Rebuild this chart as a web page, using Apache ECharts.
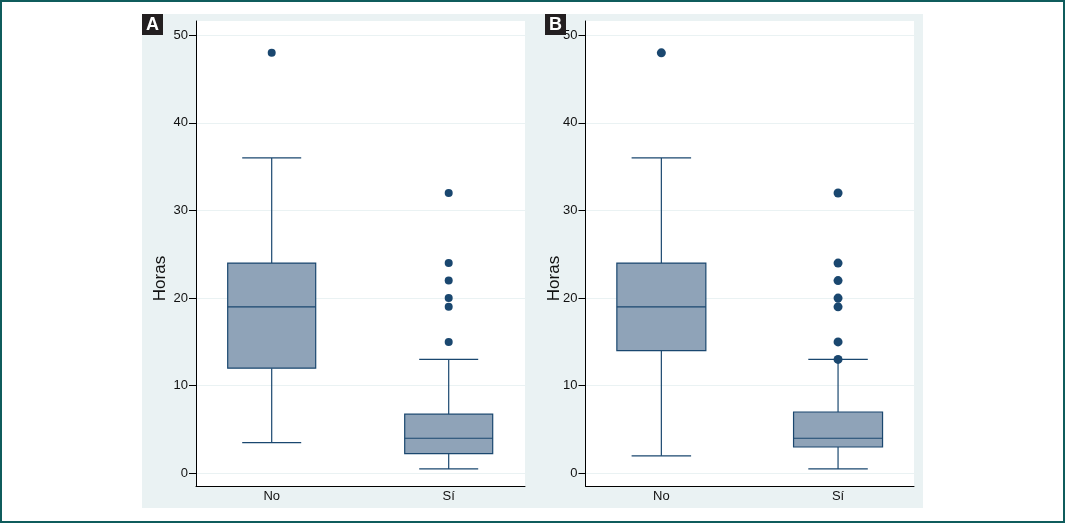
<!DOCTYPE html>
<html>
<head>
<meta charset="utf-8">
<script src="https://cdn.jsdelivr.net/npm/echarts@6/dist/echarts.min.js"></script>
<style>
html,body{margin:0;padding:0;background:#fff;}
#c{width:1065px;height:523px;}
</style>
</head>
<body>
<div id="c"></div>
<script>
// ---- data ----
const categories = ['No', 'Sí'];
const yMin = 0, yMax = 50, yInterval = 10;
// [min whisker, Q1, median, Q3, max whisker]
const boxA_No = [3.5, 12, 19, 24, 36];
const boxA_Si = [0.5, 2.25, 4, 6.75, 13];
const outA_No = [48];
const outA_Si = [32, 24, 22, 20, 19, 15];
const boxB_No = [2, 14, 19, 24, 36];
const boxB_Si = [0.5, 3, 4, 7, 13];
const outB_No = [48];
const outB_Si = [32, 24, 22, 20, 19, 15, 13];
const yTitle = 'Horas';
const panelLabels = ['A', 'B'];

// ---- styles ----
const NAVY = '#1a476f';
const FILL = '#8fa3b8';
const BG = '#eaf2f3';
const FONT = '"Liberation Sans", Arial, sans-serif';

function boxData(no, si) { return [[0].concat(no), [1].concat(si)]; }
function outData(no, si) {
  return no.map(v => [0, v]).concat(si.map(v => [1, v]));
}

function makeRender(bw, cw) {
  return function (params, api) {
    const i = api.value(0);
    const x = api.coord([i, 0])[0];
    const y = k => api.coord([i, api.value(k)])[1];
    const yl = y(1), yq1 = y(2), ym = y(3), yq3 = y(4), yh = y(5);
    const st = { stroke: NAVY, lineWidth: 1.2, fill: null };
    return {
      type: 'group',
      children: [
        { type: 'line', shape: { x1: x, y1: yh, x2: x, y2: yq3 }, style: st },
        { type: 'line', shape: { x1: x, y1: yq1, x2: x, y2: yl }, style: st },
        { type: 'line', shape: { x1: x - cw / 2, y1: yh, x2: x + cw / 2, y2: yh }, style: st },
        { type: 'line', shape: { x1: x - cw / 2, y1: yl, x2: x + cw / 2, y2: yl }, style: st },
        { type: 'rect', shape: { x: x - bw / 2, y: yq3, width: bw, height: yq1 - yq3 },
          style: { fill: FILL, stroke: NAVY, lineWidth: 1.2 } },
        { type: 'line', shape: { x1: x - bw / 2, y1: ym, x2: x + bw / 2, y2: ym }, style: st }
      ]
    };
  };
}

// panel geometry
const P = [
  { frameLeft: 196, frameW: 329, dataLeft: 183.2, dataW: 354, bw: 88, cw: 59, sym: 8, titleX: 160.5, labX: 142 },
  { frameLeft: 585.5, frameW: 328.5, dataLeft: 573, dataW: 353.4, bw: 89, cw: 59.5, sym: 9, titleX: 554, labX: 545 }
];
const frameTop = 21, frameH = 465;
const dataTop = 35.3, dataH = 438;

const grids = [], xAxes = [], yAxes = [], series = [];
P.forEach((p, k) => {
  const g0 = k * 3;
  grids.push({ left: p.frameLeft, top: frameTop, width: p.frameW, height: frameH,
    show: true, backgroundColor: '#ffffff', borderWidth: 0 });
  grids.push({ left: p.frameLeft, top: dataTop, width: p.frameW, height: dataH });
  grids.push({ left: p.dataLeft, top: dataTop, width: p.dataW, height: dataH });

  xAxes.push({ gridIndex: g0, type: 'value', min: 0, max: 1,
    axisLine: { show: true, onZero: false, lineStyle: { color: '#000', width: 1 } },
    axisTick: { show: false }, axisLabel: { show: false }, splitLine: { show: false } });
  xAxes.push({ gridIndex: g0 + 1, type: 'value', min: 0, max: 1, show: false });
  xAxes.push({ gridIndex: g0 + 2, type: 'category', data: categories, boundaryGap: true,
    axisLine: { show: false }, axisTick: { show: false }, splitLine: { show: false },
    axisLabel: { margin: 17, fontSize: 13, color: '#111', fontFamily: FONT } });

  yAxes.push({ gridIndex: g0, type: 'value', min: 0, max: 1,
    axisLine: { show: true, onZero: false, lineStyle: { color: '#000', width: 1 } },
    axisTick: { show: false }, axisLabel: { show: false }, splitLine: { show: false } });
  yAxes.push({ gridIndex: g0 + 1, type: 'value', min: yMin, max: yMax, interval: yInterval,
    axisLine: { show: false },
    axisTick: { show: true, length: 7, lineStyle: { color: '#000', width: 1 } },
    axisLabel: { margin: 8, fontSize: 13, color: '#111', fontFamily: FONT },
    splitLine: { show: true, lineStyle: { color: BG, width: 1 } } });
  yAxes.push({ gridIndex: g0 + 2, type: 'value', min: yMin, max: yMax, show: false });

  const bd = k === 0 ? boxData(boxA_No, boxA_Si) : boxData(boxB_No, boxB_Si);
  const od = k === 0 ? outData(outA_No, outA_Si) : outData(outB_No, outB_Si);
  series.push({ type: 'custom', xAxisIndex: g0 + 2, yAxisIndex: g0 + 2,
    renderItem: makeRender(p.bw, p.cw), data: bd, encode: { x: 0, y: [1, 2, 3, 4, 5] }, z: 3 });
  series.push({ type: 'scatter', xAxisIndex: g0 + 2, yAxisIndex: g0 + 2, data: od,
    symbol: 'circle', symbolSize: p.sym, itemStyle: { color: NAVY, opacity: 1 }, z: 4 });
});

const graphics = [
  { type: 'rect', z: -10, shape: { x: 1, y: 1, width: 1063, height: 521 },
    style: { fill: '#ffffff', stroke: '#0f5c5c', lineWidth: 2 } },
  { type: 'rect', z: -9, shape: { x: 142, y: 14, width: 781, height: 494 }, style: { fill: BG } }
];
P.forEach((p, k) => {
  graphics.push({ type: 'rect', z: 10, shape: { x: p.labX, y: 14, width: 21, height: 21 }, style: { fill: '#231f20' } });
  graphics.push({ type: 'text', z: 11, x: p.labX + 10.5, y: 25,
    style: { text: panelLabels[k], fill: '#fff', font: 'bold 18px ' + FONT, textAlign: 'center', textVerticalAlign: 'middle' } });
  graphics.push({ type: 'text', z: 11, x: p.titleX, y: 278.5, rotation: Math.PI / 2,
    style: { text: yTitle, fill: '#111', font: '17px ' + FONT, textAlign: 'center', textVerticalAlign: 'middle' } });
});

const chart = echarts.init(document.getElementById('c'), null, { renderer: 'canvas' });
chart.setOption({
  animation: false,
  backgroundColor: '#ffffff',
  textStyle: { fontFamily: FONT },
  grid: grids,
  xAxis: xAxes,
  yAxis: yAxes,
  series: series,
  graphic: { elements: graphics }
});
</script>
</body>
</html>
